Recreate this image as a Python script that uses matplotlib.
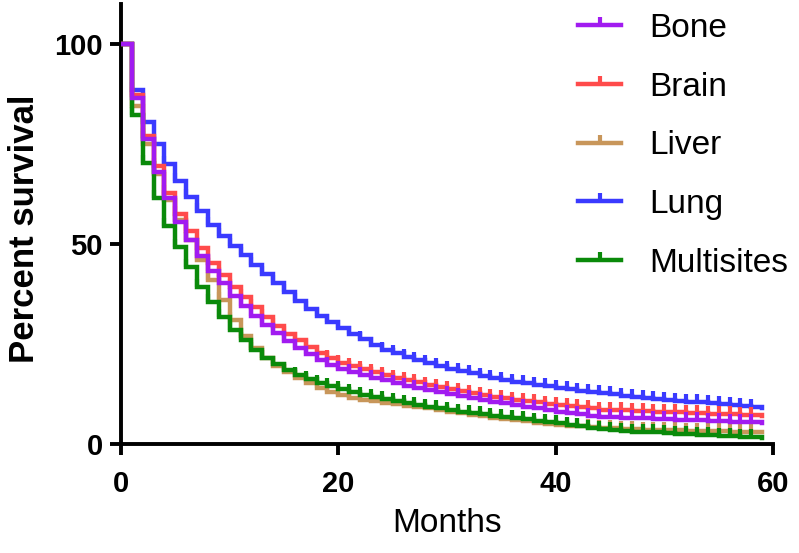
import matplotlib
matplotlib.use("Agg")
import matplotlib.pyplot as plt
import numpy as np

months = list(range(0, 60))

bone = [100, 86.4, 76.2, 68.0, 61.5, 55.6, 51.0, 47.0, 43.3, 40.2,
        37.0, 34.4, 32.0, 29.8, 27.7, 25.8, 24.0, 22.4, 21.0, 19.8,
        18.8, 18.0, 17.2, 16.5, 15.9, 15.3, 14.6, 14.0, 13.5, 13.0,
        12.5, 12.0, 11.5, 11.1, 10.6, 10.2, 9.8, 9.3, 8.9, 8.4,
        8.0, 7.7, 7.4, 7.1, 6.8, 6.7, 6.6, 6.5, 6.4, 6.3,
        6.2, 6.1, 6.0, 5.9, 5.8, 5.7, 5.6, 5.5, 5.4, 5.3]

brain = [100, 87.3, 77.0, 69.5, 62.8, 57.5, 53.2, 49.0, 45.3, 42.2,
         39.3, 36.8, 34.2, 31.7, 29.5, 27.6, 25.9, 24.3, 22.8, 21.4,
         20.2, 19.4, 18.7, 18.0, 17.3, 16.6, 16.0, 15.4, 14.8, 14.3,
         13.7, 13.2, 12.7, 12.3, 11.8, 11.4, 11.0, 10.7, 10.4, 10.1,
         9.8, 9.5, 9.2, 8.9, 8.6, 8.5, 8.4, 8.3, 8.2, 8.1,
         8.0, 7.9, 7.8, 7.7, 7.6, 7.5, 7.4, 7.3, 7.2, 7.1]

liver = [100, 84.5, 75.0, 67.5, 61.0, 56.0, 51.0, 46.0, 41.0, 36.0,
         31.0, 27.0, 24.0, 21.5, 19.5, 18.0, 16.5, 15.2, 14.0, 13.0,
         12.2, 11.6, 11.1, 10.7, 10.3, 9.9, 9.6, 9.3, 9.0, 8.5,
         8.1, 7.7, 7.3, 7.0, 6.6, 6.3, 6.0, 5.7, 5.3, 5.0,
         4.8, 4.6, 4.4, 4.2, 4.0, 3.9, 3.8, 3.7, 3.6, 3.5,
         3.4, 3.4, 3.3, 3.3, 3.2, 3.2, 3.1, 3.1, 3.0, 3.0]

lung = [100, 88.5, 80.6, 75.0, 70.0, 65.8, 61.8, 58.3, 54.8, 52.0,
        49.5, 47.2, 44.8, 42.4, 40.2, 38.0, 35.8, 33.8, 32.0, 30.4,
        29.0, 27.6, 26.2, 24.8, 23.6, 22.7, 21.8, 21.0, 20.2, 19.5,
        18.8, 18.2, 17.7, 17.1, 16.6, 16.1, 15.6, 15.2, 14.8, 14.4,
        14.0, 13.7, 13.3, 13.0, 12.7, 12.4, 12.1, 11.8, 11.5, 11.3,
        11.0, 10.8, 10.6, 10.4, 10.2, 10.0, 9.8, 9.5, 9.2, 9.0]

multisites = [100, 82.3, 70.2, 61.5, 54.5, 49.3, 44.3, 39.3, 35.5, 31.8,
              28.5, 26.0, 23.5, 21.5, 20.0, 18.5, 17.3, 16.2, 15.2, 14.4,
              13.7, 13.0, 12.3, 11.8, 11.3, 10.8, 10.3, 9.8, 9.3, 8.9,
              8.5, 8.1, 7.7, 7.4, 7.1, 6.8, 6.5, 6.2, 5.8, 5.5,
              5.2, 4.8, 4.4, 4.0, 3.7, 3.5, 3.3, 3.1, 3.0, 2.9,
              2.7, 2.6, 2.5, 2.3, 2.2, 2.0, 1.9, 1.8, 1.7, 1.6]

labels = ["Bone", "Brain", "Liver", "Lung", "Multisites"]
series = [bone, brain, liver, lung, multisites]
colors = ["#A11BF0", "#FF4B4B", "#C8965A", "#3A3AFF", "#0A8A0A"]
draw_order = [3, 2, 4, 1, 0]

x_ticks = [0, 20, 40, 60]
y_ticks = [0, 50, 100]

plt.rcParams['font.family'] = ['Liberation Sans', 'DejaVu Sans']

fig = plt.figure(figsize=(7.99, 5.53), dpi=100)
ax = fig.add_axes([121/799, 109/553, 652/799, 440/553])

tick_marker = [(0, 0), (0, 1)]
handles = {}
for i in draw_order:
    y = series[i]
    z = 2 + draw_order.index(i)
    ax.plot(months, y, drawstyle='steps-post', color=colors[i], lw=3.2,
            solid_joinstyle='miter', zorder=z)
    ax.plot(months[1:-1], y[1:-1], linestyle='none', marker=tick_marker,
            markersize=12, markeredgewidth=3, markeredgecolor=colors[i],
            markerfacecolor='none', zorder=z)
    h, = ax.plot([], [], color=colors[i], lw=3.2, marker=tick_marker,
                 markersize=12, markeredgewidth=3, markeredgecolor=colors[i])
    handles[i] = h

ax.set_xlim(0, 60)
ax.set_ylim(0, 110)
ax.set_xticks(x_ticks)
ax.set_yticks(y_ticks)
for s in ['top', 'right']:
    ax.spines[s].set_visible(False)
for s in ['left', 'bottom']:
    ax.spines[s].set_linewidth(2.8)
ax.tick_params(axis='both', length=8, width=2.8, direction='out', labelsize=21)
ax.tick_params(axis='x', pad=11)
ax.tick_params(axis='y', pad=5)
for lab in ax.get_xticklabels() + ax.get_yticklabels():
    lab.set_fontweight('bold')

ax.set_xlabel("Months", fontsize=24)
ax.xaxis.set_label_coords(0.5, -0.145)
ax.set_ylabel("Percent survival", fontsize=25, fontweight='bold')
ax.yaxis.set_label_coords(-0.123, 0.49)

leg = fig.legend([handles[i] for i in range(5)], labels, loc='upper left',
                 bbox_to_anchor=(578/799, 1 - 13/553), frameon=False, fontsize=24,
                 handlelength=1.3, handletextpad=0.85, labelspacing=0.83,
                 borderpad=0, borderaxespad=0, numpoints=1)

fig.savefig("out.png", dpi=100)
